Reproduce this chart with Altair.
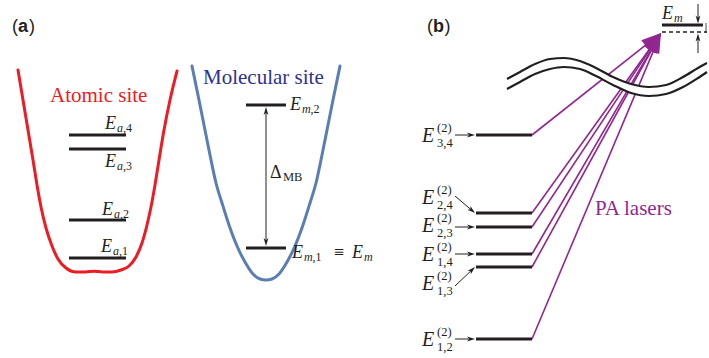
import altair as alt
import numpy as np
import pandas as pd

W, H = 709, 358

RED = "#ec1c24"
BLUE = "#5a7db6"
NAVY = "#2e3192"
PURPLE = "#92278f"
INK = "#231f20"
SERIF = "'Liberation Serif', 'Times New Roman', Times, serif"
SANS = "'Liberation Sans', Arial, Helvetica, sans-serif"

# ---------------- panel (a) ----------------
# atomic-site well (red)
atomic_x = [18, 23, 28, 33, 37, 41, 46, 52, 58, 66, 76, 84, 89, 94, 99, 104, 112, 121, 129, 136, 142, 147, 151, 155, 159, 164, 170, 177]
atomic_y = [70, 100, 130, 160, 185, 207, 228, 246, 259, 268, 272, 272, 271.6, 271.2, 271.6, 272, 272, 270, 266, 257, 243, 225, 207, 185, 160, 130, 100, 71]
# molecular-site well (blue)
mol_x = [192, 199, 205, 211, 216, 222, 229, 237, 245, 253, 260, 266, 272, 279, 287, 295, 303, 310, 316, 321, 327, 333, 340]
mol_y = [66, 100, 130, 160, 183, 203, 225, 246, 262, 274, 279, 280, 279, 274, 262, 246, 225, 203, 183, 160, 130, 100, 66]

# levels E_a,4 .. E_a,1 and E_m,2, E_m,1
atomic_level_y = [135, 149, 220, 258]
atomic_level_idx = ["4", "3", "2", "1"]
atomic_level_span = [69, 126]
atomic_label_x = [105, 105, 102, 101]
atomic_label_base = [129, 167, 215, 252]
mol_level_y = [105, 248]
mol_level_span = [246, 286]
delta_x = 266

# ---------------- panel (b) ----------------
pair_names = ["3,4", "2,4", "2,3", "1,4", "1,3", "1,2"]
pair_level_y = [135, 213, 227, 254, 267, 339]
pair_level_span = [476, 532]
pair_label_base = [142, 204, 232, 261, 290, 346]
pair_arrow_tail_y = [135, 196, 227, 254, 286, 339]
pair_arrow_tail_x = 455

em_level_y = 25
em_shift_y = 32
em_level_span = [662, 703]
em_shift_span = [662, 707]
pa_tip = (661, 33)

# axis-break double wave
wave_x = [507, 520, 535, 550, 564, 580, 596, 613, 631, 649, 666, 683, 698, 707]
wave_top = [79, 72, 64, 59, 58, 61, 68, 77, 84, 87, 85, 77, 68, 63]
wave_bot = [89, 82, 74, 69, 67, 69, 76, 85, 93, 96, 94, 87, 78, 72]

# ---------------- tables ----------------
xs = alt.Scale(domain=[0, W], nice=False, zero=False)
ys = alt.Scale(domain=[0, H], nice=False, zero=False, reverse=True)


def X(f="x"):
    return alt.X(f"{f}:Q", scale=xs, axis=None)


def Y(f="y"):
    return alt.Y(f"{f}:Q", scale=ys, axis=None)


curves = pd.concat([
    pd.DataFrame({"x": atomic_x, "y": atomic_y, "curve": "atomic", "color": RED, "w": 3.0}),
    pd.DataFrame({"x": mol_x, "y": mol_y, "curve": "molecular", "color": BLUE, "w": 3.0}),
    pd.DataFrame({"x": wave_x, "y": wave_top, "curve": "wave_top", "color": INK, "w": 2.2}),
    pd.DataFrame({"x": wave_x, "y": wave_bot, "curve": "wave_bot", "color": INK, "w": 2.2}),
])
wave_curves = curves[curves.curve.str.startswith("wave")]
well_curves = curves[~curves.curve.str.startswith("wave")]
band = pd.DataFrame({"x": wave_x, "y": wave_top, "y2": wave_bot})

segs = []


def seg(x1, y1, x2, y2, color=INK, w=1.0):
    segs.append(dict(x=x1, y=y1, x2=x2, y2=y2, color=color, w=w))


for yv in atomic_level_y:
    seg(atomic_level_span[0], yv, atomic_level_span[1], yv, w=3)
for yv in mol_level_y:
    seg(mol_level_span[0], yv, mol_level_span[1], yv, w=3)
for yv in pair_level_y:
    seg(pair_level_span[0], yv, pair_level_span[1], yv, w=3)
seg(em_level_span[0], em_level_y, em_level_span[1], em_level_y, w=3)

heads_black = []
heads_purple = []


def arrow(x1, y1, x2, y2, length, color, store, w=1.0):
    dx, dy = x2 - x1, y2 - y1
    n = float(np.hypot(dx, dy))
    ux, uy = dx / n, dy / n
    seg(x1, y1, x2 - ux * length * 0.4, y2 - uy * length * 0.4, color=color, w=w)
    store.append(dict(x=x2 - ux * length / 2, y=y2 - uy * length / 2,
                      angle=float(np.degrees(np.arctan2(ux, -uy)) % 360),
                      size=length ** 2, color=color))


# Delta_MB double arrow
mid = (mol_level_y[0] + mol_level_y[1]) / 2
arrow(delta_x, mid, delta_x, mol_level_y[0] + 2, 8, INK, heads_black)
arrow(delta_x, mid, delta_x, mol_level_y[1] - 2, 8, INK, heads_black)
# label pointers in panel (b)
for ty, ly in zip(pair_arrow_tail_y, pair_level_y):
    arrow(pair_arrow_tail_x, ty, pair_level_span[0] - 1, ly, 8, INK, heads_black)
# shift markers at E_m
arrow(698, 4, 698, em_level_y - 1.5, 8, INK, heads_black)
arrow(698, 53, 698, em_shift_y + 1.5, 8, INK, heads_black)
seg(706, 23, 706, 33, w=0.8)
# PA laser lines
for ly in pair_level_y:
    arrow(pair_level_span[1], ly, pa_tip[0], pa_tip[1], 20, PURPLE, heads_purple, w=1.6)

segments = pd.DataFrame(segs)
purple_segs = segments[segments.color == PURPLE]
other_segs = segments[segments.color != PURPLE]
dashed = pd.DataFrame({"x": [em_shift_span[0]], "x2": [em_shift_span[1]], "y": [em_shift_y], "y2": [em_shift_y]})

texts = []


def put(x, y, s, size, style="normal", weight="normal", family=SERIF, color=INK):
    texts.append(dict(x=x, y=y, text=s, size=size, style=style, weight=weight, family=family, color=color))


# panel tags
put(12, 32, "(", 18, family=SANS)
put(18, 32, "a", 18, weight="bold", family=SANS)
put(29, 32, ")", 18, family=SANS)
put(427, 32, "(", 18, family=SANS)
put(433, 32, "b", 18, weight="bold", family=SANS)
put(444.5, 32, ")", 18, family=SANS)

put(50, 102, "Atomic site", 21, color=RED)
put(203, 84, "Molecular site", 21, color=NAVY)
put(595, 215, "PA lasers", 21, color=PURPLE)

for lx, b, k in zip(atomic_label_x, atomic_label_base, atomic_level_idx):
    put(lx, b, "E", 18, style="italic")
    put(lx + 12, b + 3, "a", 12, style="italic")
    put(lx + 18, b + 3, "," + k, 12)

put(290, 110, "E", 18, style="italic")
put(302, 113, "m", 12, style="italic")
put(310.5, 113, ",2", 12)
put(292, 258, "E", 18, style="italic")
put(304, 261, "m", 12, style="italic")
put(312.5, 261, ",1", 12)
put(334, 258, "\u2261", 18)
put(352, 258, "E", 18, style="italic")
put(364, 261, "m", 12, style="italic")
put(270, 178, "\u0394", 18)
put(283, 181, "MB", 12.5)

put(662, 19, "E", 18, style="italic")
put(674, 22, "m", 12, style="italic")

for name, b in zip(pair_names, pair_label_base):
    put(422, b, "E", 20, style="italic")
    put(437, b - 10, "(2)", 12.5)
    put(437, b + 5, name, 12.5)

text_df = pd.DataFrame(texts)

# ---------------- layers ----------------
layers = []
layers.append(
    alt.Chart(well_curves).mark_line(interpolate="monotone", strokeCap="round").encode(
        x=X(), y=Y(), detail="curve:N",
        color=alt.Color("color:N", scale=None),
        strokeWidth=alt.StrokeWidth("w:Q", scale=None),
    )
)
layers.append(
    alt.Chart(purple_segs).mark_rule(strokeCap="butt").encode(
        x=X(), y=Y(), x2="x2:Q", y2="y2:Q",
        color=alt.Color("color:N", scale=None),
        strokeWidth=alt.StrokeWidth("w:Q", scale=None),
    )
)
layers.append(
    alt.Chart(band).mark_area(interpolate="monotone", color="white", opacity=1).encode(
        x=X(), y=Y(), y2="y2:Q"
    )
)
layers.append(
    alt.Chart(wave_curves).mark_line(interpolate="monotone").encode(
        x=X(), y=Y(), detail="curve:N",
        color=alt.Color("color:N", scale=None),
        strokeWidth=alt.StrokeWidth("w:Q", scale=None),
    )
)
layers.append(
    alt.Chart(other_segs).mark_rule(strokeCap="butt").encode(
        x=X(), y=Y(), x2="x2:Q", y2="y2:Q",
        color=alt.Color("color:N", scale=None),
        strokeWidth=alt.StrokeWidth("w:Q", scale=None),
    )
)
layers.append(
    alt.Chart(dashed).mark_rule(strokeDash=[4, 3], strokeWidth=1.3, color=INK).encode(
        x=X(), y=Y(), x2="x2:Q", y2="y2:Q"
    )
)
layers.append(
    alt.Chart(pd.DataFrame(heads_black)).mark_point(
        shape="M0,-1L0.6,1L0,0.45L-0.6,1Z", filled=True, opacity=1, strokeWidth=0
    ).encode(
        x=X(), y=Y(),
        angle=alt.Angle("angle:Q", scale=None),
        size=alt.Size("size:Q", scale=None),
        color=alt.Color("color:N", scale=None),
    )
)
layers.append(
    alt.Chart(pd.DataFrame(heads_purple)).mark_point(
        shape="M0,-1L0.65,1L-0.65,1Z", filled=True, opacity=1, strokeWidth=0
    ).encode(
        x=X(), y=Y(),
        angle=alt.Angle("angle:Q", scale=None),
        size=alt.Size("size:Q", scale=None),
        color=alt.Color("color:N", scale=None),
    )
)

for (fam, sty, wt), grp in text_df.groupby(["family", "style", "weight"]):
    layers.append(
        alt.Chart(grp.reset_index(drop=True)).mark_text(
            align="left", baseline="alphabetic", font=fam, fontStyle=sty, fontWeight=wt
        ).encode(
            x=X(), y=Y(), text="text:N",
            size=alt.Size("size:Q", scale=None),
            color=alt.Color("color:N", scale=None),
        )
    )

chart = alt.layer(*layers).properties(
    width=W, height=H, padding=0, background="white",
    autosize=alt.AutoSizeParams(type="none"),
).configure_view(strokeWidth=0)

chart.save("out.html", embed_options={"renderer": "svg", "actions": False})
